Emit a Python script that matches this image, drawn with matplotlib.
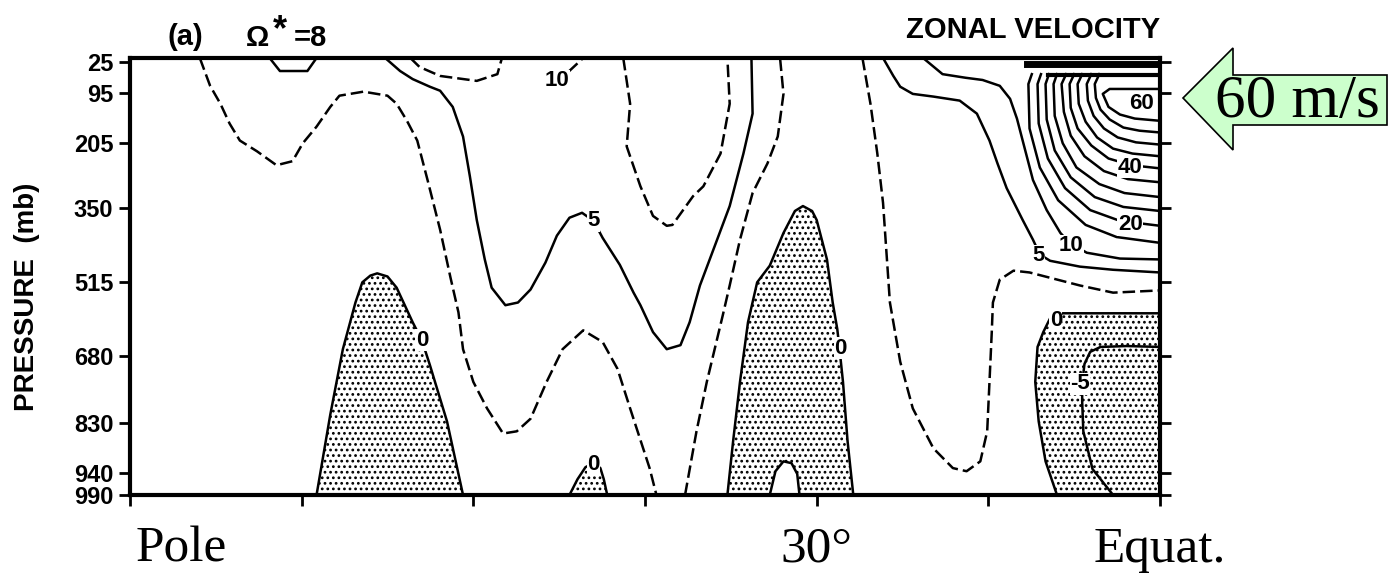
import numpy as np
import matplotlib
matplotlib.use('Agg')
import matplotlib.pyplot as plt
from matplotlib.patches import Polygon
from matplotlib.transforms import blended_transform_factory

plt.rcParams['font.family'] = ['Liberation Sans', 'DejaVu Sans']
plt.rcParams['hatch.linewidth'] = 1.2

# axis ticks
p_ticks = [25, 95, 205, 350, 515, 680, 830, 940, 990]
lat_ticks = [90, 75, 60, 45, 30, 15, 0]

# zonal velocity contours, (latitude, pressure mb)
# dashed = intermediate contours
A1 = [(83.9, 16), (83.0, 78), (82.1, 118), (81.3, 162), (80.4, 200), (78.9, 224), (77.2, 255),
      (75.8, 246), (74.9, 206), (73.7, 169), (72.5, 125), (71.7, 100), (69.6, 91), (67.5, 100),
      (66.7, 118), (65.8, 156), (64.9, 200), (64.0, 288), (62.9, 399), (62.0, 505), (61.3, 583),
      (60.9, 665), (60.0, 738), (58.8, 797), (57.4, 853), (56.2, 848), (55.0, 820), (53.6, 738),
      (52.2, 665), (50.4, 623), (48.7, 649), (47.4, 709), (46.3, 797), (44.6, 930), (44.0, 990)]
A2 = [(41.5, 990), (40.5, 848), (39.6, 738), (38.2, 589), (37.6, 523), (36.7, 421), (35.6, 317),
      (34.3, 251), (33.4, 191), (32.9, 96), (33.2, 16)]
U1 = [(46.9, 16), (46.3, 118), (46.6, 213), (45.4, 302), (44.3, 368), (43.1, 390), (42.6, 388),
      (40.8, 324), (39.9, 302), (38.4, 229), (37.6, 118), (37.8, 16)]
U2 = [(26.0, 16), (25.3, 118), (24.7, 229), (24.2, 339), (23.9, 450), (23.6, 561), (22.7, 693),
      (21.6, 797), (19.8, 886), (18.1, 930), (16.9, 937), (15.7, 915), (15.1, 848), (14.9, 738),
      (14.7, 627), (14.6, 561), (14.0, 510), (12.8, 490), (11.4, 494), (7.0, 523), (4.1, 539),
      (0.0, 534)]
top_dash = [(65.5, 16), (64.7, 36), (62.9, 56), (59.7, 67), (57.9, 52), (57.5, 16)]
short_dash = [(51.7, 47), (50.4, 16)]

# solid contours (5 m/s interval)
B5 = [(67.7, 16), (66.4, 45), (65.3, 63), (63.8, 80), (62.9, 89), (61.8, 125), (60.9, 191),
      (60.3, 280), (59.7, 377), (59.0, 465), (58.4, 528), (57.2, 567), (56.1, 561), (55.0, 532),
      (53.7, 472), (52.7, 412), (51.6, 372), (50.5, 361), (49.5, 379), (48.7, 417), (47.2, 477),
      (46.0, 539), (45.4, 567), (44.3, 627), (43.1, 665), (41.9, 656), (41.1, 605), (40.2, 523),
      (38.7, 421), (37.6, 346), (36.4, 229), (35.6, 140), (35.7, 16)]
C5 = [(24.2, 16), (23.3, 56), (22.7, 80), (21.6, 96), (19.8, 102), (17.5, 111), (16.0, 140),
      (14.9, 200), (14.2, 251), (13.4, 306), (12.0, 377), (11.1, 421), (10.5, 454), (9.6, 468),
      (7.0, 481), (4.1, 488), (0.0, 494)]
C10 = [(20.7, 16), (19.0, 52), (17.0, 60), (15.5, 65), (14.0, 78), (13.1, 107), (12.5, 151),
       (12.0, 200), (11.1, 288), (9.9, 355), (8.7, 406), (7.9, 428), (6.4, 450), (3.5, 463),
       (0.0, 465)]
u15 = [(11.2, 52), (11.5, 74), (11.4, 173), (10.5, 260), (8.9, 333), (6.5, 388), (3.8, 415), (0.0, 428)]
u20 = [(10.4, 52), (10.7, 74), (10.6, 162), (9.8, 240), (8.3, 306), (6.1, 355), (3.5, 379), (0.0, 390)]
u25 = [(9.7, 52), (10.0, 74), (9.9, 153), (9.2, 222), (7.8, 282), (5.7, 326), (3.2, 348), (0.0, 357)]
u30 = [(9.0, 52), (9.3, 74), (9.2, 145), (8.5, 206), (7.3, 260), (5.3, 297), (3.1, 317), (0.0, 326)]
u35 = [(8.2, 52), (8.6, 74), (8.4, 136), (7.8, 189), (6.6, 235), (4.9, 268), (2.8, 286), (0.0, 293)]
u40 = [(7.5, 52), (7.9, 74), (7.8, 127), (7.2, 173), (6.0, 211), (4.5, 240), (2.5, 255), (0.0, 262)]
u45 = [(6.8, 52), (7.2, 74), (7.1, 118), (6.5, 158), (5.5, 193), (4.1, 218), (2.4, 229), (0.0, 235)]
u50 = [(6.0, 52), (6.4, 74), (6.3, 111), (5.8, 145), (4.9, 173), (3.7, 193), (2.1, 204), (0.0, 209)]
u55 = [(5.3, 52), (5.7, 74), (5.6, 105), (5.2, 131), (4.4, 153), (3.2, 171), (1.8, 178), (0.0, 182)]
u60 = [(0.0, 85), (4.4, 85), (5.0, 96), (4.5, 125), (3.5, 142), (2.2, 151), (0.0, 156)]
top_loop = [(77.8, 16), (76.9, 45), (74.5, 45), (73.7, 16)]
# crowded contours squeezed against the model top over the equator
band_hi = [(11.6, 30), (0.0, 30)]
band_lo = [(9.8, 55), (0.0, 55)]

# zero and negative contours
hump1 = [(73.7, 990), (72.5, 811), (71.4, 665), (70.3, 561), (69.7, 516), (69.0, 501), (68.4, 496),
         (67.5, 503), (66.7, 528), (65.3, 605), (64.5, 645), (63.8, 700), (62.3, 826), (60.9, 990)]
bump3 = [(51.6, 990), (50.9, 955), (50.2, 928), (49.5, 919), (48.9, 930), (48.6, 955), (48.3, 990)]
hump2 = [(37.8, 990), (37.3, 870), (36.7, 738), (36.0, 605), (35.2, 516), (34.1, 479), (32.9, 406),
         (31.9, 357), (31.2, 346), (30.4, 357), (30.0, 377), (29.1, 465), (28.6, 561), (28.2, 620),
         (28.0, 665), (27.7, 738), (27.3, 870), (26.8, 990)]
hump2_hole = [(34.1, 990), (33.6, 937), (32.9, 915), (32.2, 919), (31.7, 943), (31.5, 990)]
eq0 = [(0.0, 585), (5.2, 585), (8.5, 585), (9.6, 596), (10.2, 627), (10.7, 660), (10.9, 738),
       (10.6, 826), (10.0, 915), (9.0, 990)]
eqm5 = [(0.0, 660), (2.9, 658), (5.2, 660), (6.1, 671), (6.6, 698), (6.8, 742), (6.8, 782),
        (6.7, 848), (5.9, 932), (4.1, 990)]

# contour labels
lab_text = ["10", "5", "0", "0", "0", "0", "-5", "5", "10", "20", "40", "60"]
lab_lat = [52.7, 49.5, 64.5, 49.5, 27.9, 9.1, 7.0, 10.6, 7.8, 2.6, 2.6, 1.6]
lab_p = [67, 379, 645, 922, 663, 600, 742, 457, 434, 388, 260, 118]

solid_lines = [B5, C5, C10, u15, u20, u25, u30, u35, u40, u45, u50, u55, u60, top_loop,
               hump1, bump3, hump2, hump2_hole, eq0, eqm5]
dashed_lines = [A1, A2, U1, U2, top_dash, short_dash]
neg_areas = [hump1, bump3, hump2 + hump2_hole[::-1], eq0 + [(0.0, 990)]]

W, H = 1389, 574
fx = lambda x: x / W
fy = lambda y: 1 - y / H

fig = plt.figure(figsize=(W / 100, H / 100), dpi=100)
fig.patch.set_facecolor('white')
ax = fig.add_axes([fx(130), fy(495), 1030 / W, 437 / H])
ax.set_xlim(90, 0)
ax.set_ylim(990, 16)

for area in neg_areas:
    a = np.array(area)
    ax.fill(a[:, 0], a[:, 1], facecolor='white', edgecolor='black', lw=0, hatch='...', zorder=1)
for line in solid_lines:
    a = np.array(line)
    ax.plot(a[:, 0], a[:, 1], color='black', lw=1.8, zorder=2)
for line in dashed_lines:
    a = np.array(line)
    ax.plot(a[:, 0], a[:, 1], color='black', lw=1.8, ls=(0, (5, 2)), zorder=2)
for line, w in [(band_hi, 5), (band_lo, 3)]:
    a = np.array(line)
    ax.plot(a[:, 0], a[:, 1], color='black', lw=w, zorder=2)

for t, la, pr in zip(lab_text, lab_lat, lab_p):
    ax.text(la, pr, t, ha='center', va='center', fontsize=16, fontweight='bold',
            bbox=dict(fc='white', ec='none', pad=0.3), zorder=4)

ax.set_yticks(p_ticks)
ax.set_yticklabels([str(p) for p in p_ticks], fontsize=17, fontweight='bold')
ax.set_xticks(lat_ticks)
ax.set_xticklabels([])
ax.tick_params(axis='y', left=True, right=True, direction='out', length=8, width=2, pad=4)
ax.tick_params(axis='x', bottom=True, direction='out', length=8, width=2)
for s in ax.spines.values():
    s.set_linewidth(3)

# titles
fig.text(fx(185), fy(45), '(a)', ha='center', va='baseline', fontsize=21, fontweight='bold')
fig.text(fx(246), fy(46), 'Ω', ha='left', va='baseline', fontsize=21, fontweight='bold')
fig.text(fx(273), fy(40), '*', ha='left', va='baseline', fontsize=26, fontweight='bold')
fig.text(fx(294), fy(46), '=8', ha='left', va='baseline', fontsize=21, fontweight='bold')
fig.text(fx(1160), fy(38), 'ZONAL VELOCITY', ha='right', va='baseline', fontsize=21, fontweight='bold')
fig.text(fx(27), fy(297), 'PRESSURE  (mb)', rotation=90, ha='center', va='center',
         fontsize=20, fontweight='bold')

# latitude annotations below the axis
trans = blended_transform_factory(ax.transData, fig.transFigure)
serif = ['Liberation Serif', 'DejaVu Serif']
ax.text(89.5, fy(562), 'Pole', transform=trans, ha='left', va='baseline', fontsize=37, family=serif)
ax.text(30, fy(562), '30°', transform=trans, ha='center', va='baseline', fontsize=37, family=serif)
ax.text(0, fy(562), 'Equat.', transform=trans, ha='center', va='baseline', fontsize=37, family=serif)

# callout arrow
arrow_px = [(1183, 98), (1233, 48), (1233, 75), (1387, 75), (1387, 125), (1233, 125), (1233, 150)]
arrow = Polygon([(fx(x), fy(y)) for x, y in arrow_px], closed=True, transform=fig.transFigure,
                facecolor='#ccffcc', edgecolor='black', lw=1.2)
fig.add_artist(arrow)
fig.text(fx(1297), fy(102), '60 m/s', ha='center', va='center', fontsize=44, family=serif)

fig.savefig('out.png', dpi=100)
